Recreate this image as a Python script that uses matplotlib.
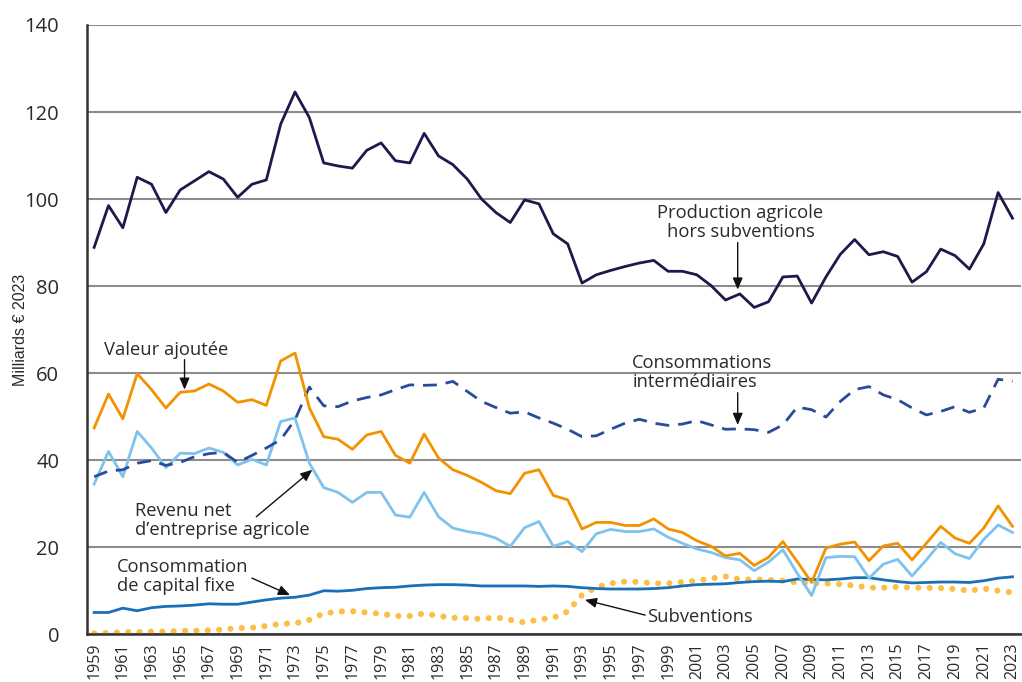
import matplotlib
matplotlib.use("Agg")
import matplotlib.pyplot as plt
import numpy as np

years = list(range(1959, 2024))

production = [88.9, 98.5, 93.4, 105.0, 103.4, 96.9, 102.1, 104.2, 106.3, 104.6,
              100.4, 103.4, 104.4, 117.2, 124.6, 118.7, 108.3, 107.6, 107.1, 111.2,
              112.9, 108.8, 108.3, 115.1, 109.9, 107.9, 104.6, 100.0, 96.9, 94.6,
              99.8, 98.9, 92.0, 89.7, 80.7, 82.6, 83.6, 84.5, 85.3, 85.9,
              83.4, 83.4, 82.6, 80.1, 76.8, 78.2, 75.1, 76.4, 82.1, 82.3,
              76.1, 82.1, 87.3, 90.7, 87.2, 87.9, 86.8, 80.9, 83.3, 88.5,
              87.0, 83.9, 89.7, 101.5, 95.6]

valeur_ajoutee = [47.4, 55.2, 49.5, 59.9, 56.2, 52.0, 55.6, 55.9, 57.5, 55.9,
                  53.3, 53.9, 52.6, 62.8, 64.6, 52.0, 45.4, 44.8, 42.5, 45.8,
                  46.6, 41.1, 39.3, 46.0, 40.5, 37.8, 36.5, 34.9, 33.0, 32.3,
                  37.0, 37.8, 31.9, 30.9, 24.2, 25.7, 25.7, 25.0, 25.0, 26.5,
                  24.2, 23.4, 21.5, 20.2, 18.0, 18.6, 15.8, 17.7, 21.3, 16.7,
                  11.9, 19.8, 20.7, 21.2, 16.9, 20.3, 20.9, 17.1, 20.9, 24.8,
                  22.1, 20.9, 24.4, 29.5, 24.8]

revenu_net = [34.5, 42.0, 36.2, 46.6, 42.8, 38.3, 41.6, 41.5, 42.8, 41.8,
              38.9, 40.2, 38.9, 48.9, 49.7, 39.3, 33.7, 32.6, 30.3, 32.6,
              32.6, 27.4, 26.9, 32.6, 27.0, 24.4, 23.6, 23.1, 22.1, 20.2,
              24.5, 25.9, 20.2, 21.3, 19.0, 23.1, 24.1, 23.6, 23.6, 24.2,
              22.3, 20.9, 19.6, 18.8, 17.6, 17.1, 14.6, 16.6, 19.4, 14.0,
              8.9, 17.6, 17.9, 17.8, 12.9, 16.1, 17.2, 13.4, 17.1, 21.1,
              18.5, 17.4, 21.8, 25.1, 23.4]

conso_interm = [36.2, 37.5, 37.8, 39.3, 39.9, 38.8, 39.5, 40.8, 41.5, 41.8,
                39.5, 41.1, 42.8, 44.7, 49.3, 56.8, 52.5, 52.3, 53.6, 54.4,
                55.0, 56.2, 57.3, 57.2, 57.3, 58.1, 55.8, 53.5, 52.1, 50.8,
                51.1, 49.7, 48.5, 47.1, 45.4, 45.6, 47.1, 48.5, 49.4, 48.5,
                48.0, 48.3, 49.1, 48.1, 47.1, 47.2, 47.0, 46.4, 48.1, 52.2,
                51.6, 49.9, 53.5, 56.2, 56.9, 55.0, 53.9, 52.0, 50.4, 51.2,
                52.3, 51.0, 52.0, 58.6, 58.1]

capital_fixe = [5.0, 5.0, 6.0, 5.4, 6.1, 6.4, 6.5, 6.7, 7.0, 6.9,
                6.9, 7.4, 7.9, 8.3, 8.5, 9.0, 10.0, 9.9, 10.1, 10.5,
                10.7, 10.8, 11.1, 11.3, 11.4, 11.4, 11.3, 11.1, 11.1, 11.1,
                11.1, 11.0, 11.1, 11.0, 10.7, 10.5, 10.4, 10.4, 10.4, 10.5,
                10.7, 11.1, 11.4, 11.5, 11.6, 11.9, 12.1, 12.2, 12.1, 12.7,
                12.6, 12.5, 12.7, 13.0, 13.0, 12.5, 12.1, 11.8, 11.9, 12.0,
                12.0, 11.9, 12.3, 12.9, 13.2]

subventions = [0.2, 0.3, 0.5, 0.5, 0.6, 0.6, 0.8, 0.8, 0.9, 1.1,
               1.4, 1.5, 1.9, 2.4, 2.5, 3.3, 4.8, 5.2, 5.3, 5.0,
               4.7, 4.2, 4.2, 4.8, 4.2, 3.8, 3.7, 3.5, 3.9, 3.3,
               2.7, 3.4, 3.8, 5.2, 9.0, 10.8, 11.7, 12.1, 12.0, 11.7,
               11.7, 12.0, 12.3, 12.8, 13.3, 12.6, 12.6, 12.5, 12.3, 11.9,
               11.7, 11.7, 11.5, 11.2, 10.7, 10.7, 10.9, 10.7, 10.7, 10.6,
               10.4, 10.0, 10.5, 10.0, 9.6]

xticks = list(range(1959, 2024, 2))
yticks = [0, 20, 40, 60, 80, 100, 120, 140]

FONT = "Open Sans"
TXT = "#2a2a2a"
fig = plt.figure(figsize=(10.22, 6.82), dpi=100)
ax = fig.add_axes([0.0851, 0.07, 0.914, 0.8934])

ax.set_xlim(1958.5, 2023.6)
ax.set_ylim(0, 140)

ax.set_yticks(yticks)
ax.yaxis.grid(True, color="#8c8c8c", linewidth=1.5)
ax.set_axisbelow(True)
for s in ["top", "right"]:
    ax.spines[s].set_visible(False)
for s in ["left", "bottom"]:
    ax.spines[s].set_color("#333333")
    ax.spines[s].set_linewidth(1.8)
    ax.spines[s].set_zorder(5)

ax.plot(years, subventions, color="#fcbf45", linewidth=4.4,
        linestyle=(0, (0.01, 1.85)), dash_capstyle="round", zorder=2)
ax.plot(years, capital_fixe, color="#1a6fb8", linewidth=2.0, zorder=3)
ax.plot(years, revenu_net, color="#7dc3ee", linewidth=2.0, zorder=3)
ax.plot(years, conso_interm, color="#2a4a9a", linewidth=2.0,
        linestyle=(0, (5, 3.2)), zorder=3)
ax.plot(years, valeur_ajoutee, color="#f39200", linewidth=2.0, zorder=4)
ax.plot(years, production, color="#1c1a4a", linewidth=2.0, zorder=4)

ax.set_xticks(xticks)
ax.set_xticklabels([str(y) for y in xticks], rotation=90, fontsize=11.5,
                   family=FONT, color=TXT)
ax.set_yticklabels([str(v) for v in yticks], fontsize=14.5, family=FONT,
                   color=TXT)
ax.tick_params(axis="both", length=0)
ax.tick_params(axis="y", pad=20)
ax.tick_params(axis="x", pad=6)
ax.set_ylabel("Milliards € 2023", fontsize=11.5, family="Liberation Sans",
              color=TXT)
ax.yaxis.set_label_coords(-0.063, 0.5)

ann = dict(fontsize=13.2, family=FONT, color=TXT)
arrow = dict(arrowstyle="-|>,head_length=0.7,head_width=0.3", color="#111111",
             lw=1.0, shrinkA=0, shrinkB=0)

ax.text(2004.05, 94.6, "Production agricole\nhors subventions", ha="center",
        va="center", linespacing=1.08, **ann)
ax.annotate("", xy=(2003.85, 79.2), xytext=(2003.85, 90.0), arrowprops=arrow)

ax.text(1996.5, 60.2, "Consommations\nintermédiaires", ha="left",
        va="center", linespacing=1.08, **ann)
ax.annotate("", xy=(2003.85, 48.1), xytext=(2003.85, 55.5), arrowprops=arrow)

ax.text(1959.7, 65.4, "Valeur ajoutée", ha="left", va="center", **ann)
ax.annotate("", xy=(1965.3, 56.2), xytext=(1965.3, 63.1), arrowprops=arrow)

ax.text(1961.85, 26.2, "Revenu net\nd’entreprise agricole", ha="left",
        va="center", linespacing=1.08, **ann)
ax.annotate("", xy=(1974.2, 37.8), xytext=(1970.3, 27.0), arrowprops=arrow)

ax.text(1960.6, 13.3, "Consommation\nde capital fixe", ha="left",
        va="center", linespacing=1.08, **ann)
ax.annotate("", xy=(1972.65, 9.0), xytext=(1970.0, 12.9), arrowprops=arrow)

ax.text(1997.5, 4.0, "Subventions", ha="left", va="center", **ann)
ax.annotate("", xy=(1993.2, 7.9), xytext=(1997.4, 4.4), arrowprops=arrow)

fig.savefig("out.png", dpi=100)
